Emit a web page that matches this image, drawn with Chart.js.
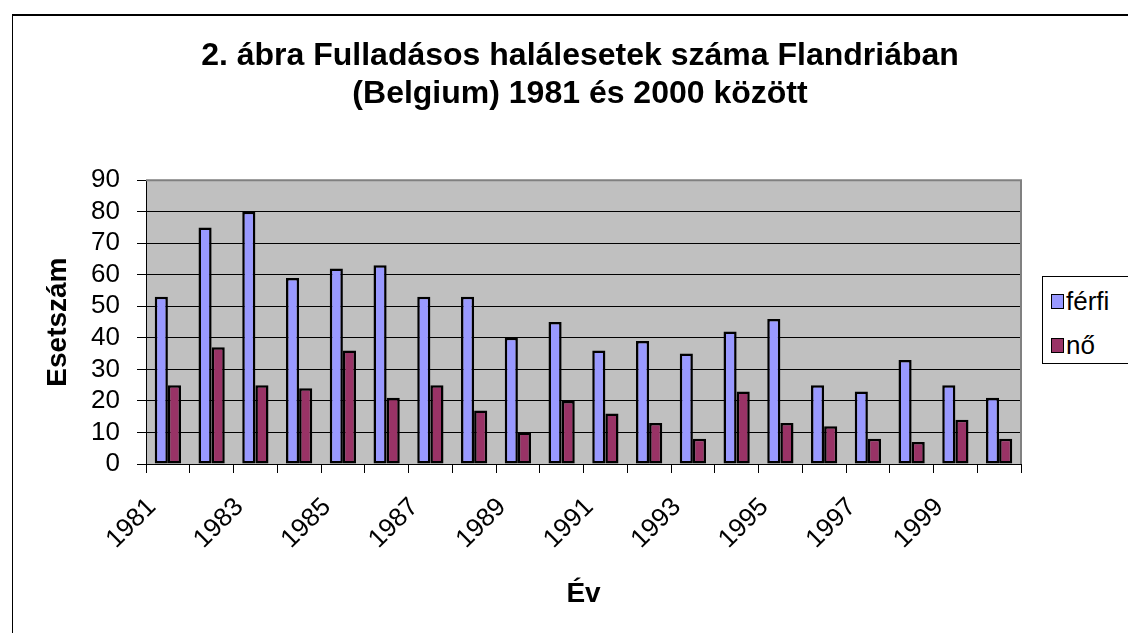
<!DOCTYPE html>
<html>
<head>
<meta charset="utf-8">
<script src="https://cdn.jsdelivr.net/npm/chart.js@4/dist/chart.umd.min.js"></script>
<style>
    html, body { margin: 0; padding: 0; background: #fff; overflow: hidden; }
    body { width: 1128px; height: 633px; position: relative; font-family: 'Liberation Sans', Arial, sans-serif; }
    #frame { position: absolute; left: 12px; top: 14px; width: 1200px; height: 700px; border-left: 1px solid #000; border-top: 2px solid #000; }
    #chart { position: absolute; left: 0; top: 0; }
    #legend { position: absolute; left: 1042px; top: 276px; width: 120px; height: 86px; border: 1px solid #000; background: #fff; }
    .item { position: absolute; left: 8px; font-size: 26px; line-height: 30px; color: #000; }
    .item span { display: inline-block; width: 11px; height: 13px; border: 1.5px solid #000; margin-right: 2px; vertical-align: 1px; }
</style>
</head>
<body>
<div id="frame"></div>
<canvas id="chart" width="1128" height="633"></canvas>
<div id="legend">
    <div class="item" style="top: 9px;"><span style="background:#9999FF"></span>férfi</div>
    <div class="item" style="top: 53px;"><span style="background:#993366"></span>nő</div>
</div>
<script>
"use strict";

// Data
const years = ['1981', '1982', '1983', '1984', '1985', '1986', '1987', '1988', '1989', '1990',
    '1991', '1992', '1993', '1994', '1995', '1996', '1997', '1998', '1999', '2000'];
const ferfi = [53, 75, 80, 59, 62, 63, 53, 53, 40, 45, 36, 39, 35, 42, 46, 25, 23, 33, 25, 21];
const no = [25, 37, 25, 24, 36, 21, 25, 17, 10, 20, 16, 13, 8, 23, 13, 12, 8, 7, 14, 8];
const yMin = 0;
const yMax = 90;
const yStep = 10;

const font = 'Liberation Sans, Arial, sans-serif';

// plot area background + grey top/right frame
const plotArea = {
    id: 'plotArea',
    beforeDraw(chart) {
        const { ctx, chartArea: a } = chart;
        ctx.save();
        ctx.fillStyle = '#C0C0C0';
        ctx.fillRect(a.left, a.top, a.right - a.left, a.bottom - a.top);
        ctx.restore();
    },
    afterDraw(chart) {
        const { ctx, chartArea: a } = chart;
        ctx.save();
        ctx.strokeStyle = '#808080';
        ctx.lineWidth = 2;
        ctx.beginPath();
        ctx.moveTo(a.left, a.top);
        ctx.lineTo(a.right, a.top);
        ctx.lineTo(a.right, a.bottom);
        ctx.stroke();
        ctx.restore();
    }
};

new Chart(document.getElementById('chart'), {
    type: 'bar',
    data: {
        labels: years,
        datasets: [
            {
                label: 'férfi',
                data: ferfi,
                backgroundColor: '#9999FF',
                borderColor: '#000',
                borderWidth: 2.5,
                borderSkipped: false,
                categoryPercentage: 0.6,
                barPercentage: 1
            },
            {
                label: 'nő',
                data: no,
                backgroundColor: '#993366',
                borderColor: '#000',
                borderWidth: 2.5,
                borderSkipped: false,
                categoryPercentage: 0.6,
                barPercentage: 1
            }
        ]
    },
    options: {
        responsive: false,
        animation: false,
        layout: { padding: { left: 32, top: 0, right: 0, bottom: 0 } },
        plugins: {
            legend: { display: false },
            tooltip: { enabled: false },
            title: {
                display: true,
                text: ['2. ábra Fulladásos halálesetek száma Flandriában', '(Belgium) 1981 és 2000 között'],
                color: '#000',
                font: { family: font, size: 32, weight: 'bold', lineHeight: 1.19 },
                padding: { top: 37, bottom: 67 }
            }
        },
        scales: {
            x: {
                grid: { display: true, drawOnChartArea: false, drawTicks: true, tickLength: 9, color: '#000', offset: true },
                border: { display: true, color: '#000', width: 1 },
                ticks: {
                    autoSkip: false,
                    maxRotation: 45,
                    minRotation: 45,
                    padding: 19,
                    labelOffset: -16,
                    color: '#000',
                    font: { family: font, size: 26 },
                    callback: (val, i) => (i % 2 === 0 ? years[i] : '')
                },
                title: {
                    display: true,
                    text: 'Év',
                    color: '#000',
                    font: { family: font, size: 28, weight: 'bold' },
                    padding: { top: 0, bottom: 22 }
                },
                afterFit: s => { s.height = 169; }
            },
            y: {
                min: yMin,
                max: yMax,
                grid: { color: '#000', lineWidth: 1, drawTicks: true, tickLength: 9 },
                border: { display: true, color: '#000', width: 1 },
                ticks: {
                    stepSize: yStep,
                    autoSkip: false,
                    padding: 17,
                    color: '#000',
                    font: { family: font, size: 26 }
                },
                title: {
                    display: true,
                    text: 'Esetszám',
                    color: '#000',
                    font: { family: font, size: 28, weight: 'bold' },
                    padding: { top: 9, bottom: 0 }
                },
                afterFit: s => { s.width = 114; }
            },
            yR: {
                type: 'linear',
                position: 'right',
                display: true,
                grid: { display: false },
                border: { display: false },
                ticks: { display: false },
                afterFit: s => { s.width = 107; }
            }
        }
    },
    plugins: [plotArea]
});
</script>
</body>
</html>
